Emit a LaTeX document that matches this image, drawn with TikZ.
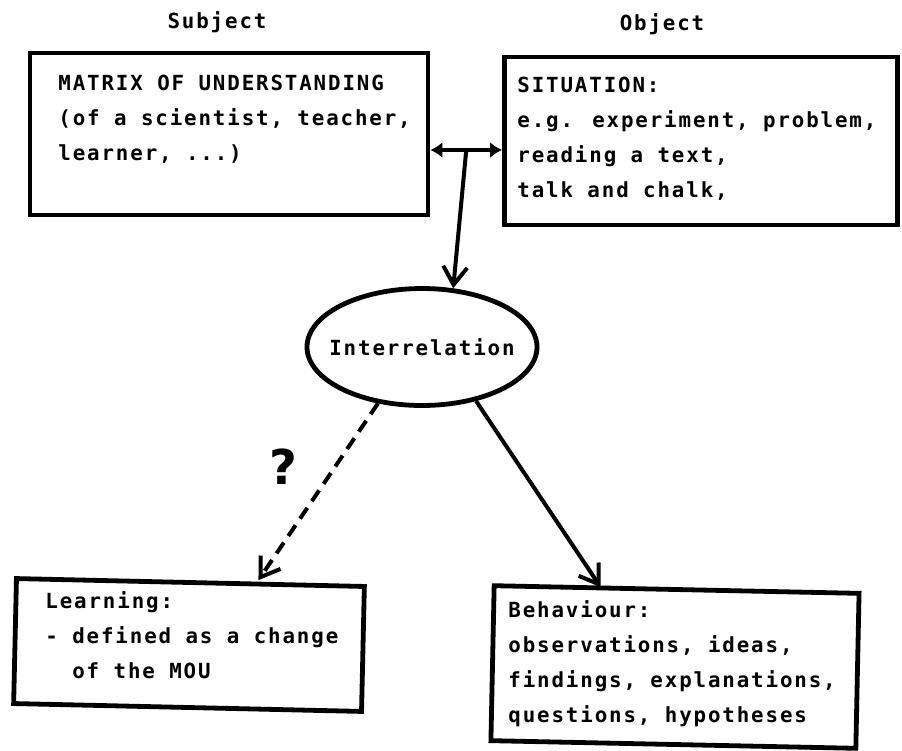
\documentclass[tikz,border=0pt]{standalone}
\usepackage{fontspec}
\usetikzlibrary{arrows.meta,shapes.geometric}
\newfontfamily\typew[LetterSpace=9]{DejaVu Sans Mono}
\newfontfamily\handq{DejaVu Sans}
\newcommand{\lines}[1]{\begin{tabular}[t]{@{}l@{}}#1\end{tabular}}
\begin{document}
\begin{tikzpicture}[x=0.5pt, y=-0.5pt,
    every node/.style={font=\typew\bfseries\fontsize{10.4}{17.5}\selectfont},
    box/.style={draw, line width=2.4pt, inner sep=0pt},
    txt/.style={anchor=base west, inner sep=0pt},
    arr/.style={line width=2pt, -{Straight Barb[length=9pt,width=12pt]}}]
    \useasboundingbox (0,0) rectangle (902,751);
    \node (subj) at (217,22) {Subject};
    \node (obj) at (662,24) {Object};
    \node[box, minimum width=199pt, minimum height=81pt] (mou) at (229,134) {};
    \node[box, minimum width=196.5pt, minimum height=84pt] (sit) at (701,141) {};
    \node[box, minimum width=174pt, minimum height=62.5pt, rotate=-1.3] (learn) at (189,645) {};
    \node[box, minimum width=182.5pt, minimum height=77.5pt, rotate=-1.2] (behav) at (675,667) {};
    \node[txt] (moutext) at (58,90) {\lines{MATRIX OF UNDERSTANDING\\(of a scientist, teacher,\\learner, ...)}};
    \node[txt] (sittext) at (517,92) {\lines{SITUATION:\\e.g. experiment, problem,\\reading a text,\\talk and chalk,}};
    \node[txt] (learntext) at (45,608) {\lines{Learning:\\- defined as a change\\\phantom{- }of the MOU}};
    \node[txt] (behavtext) at (508,617) {\lines{Behaviour:\\observations, ideas,\\findings, explanations,\\questions, hypotheses}};
    \node[draw, ellipse, line width=2.4pt, minimum width=115pt, minimum height=58.5pt, inner sep=0pt, inner xsep=-6pt] (inter) at (422,347) {Interrelation};
    \node[font=\handq\bfseries\fontsize{24}{24}\selectfont] (qmark) at (283,467) {?};
    \draw[line width=2pt, {Latex[length=6pt,width=8pt]}-{Latex[length=6pt,width=8pt]}]
        ([yshift=-8pt]mou.east) -- coordinate[pos=0.5] (mid) ([yshift=-8pt]mou.east -| sit.west);
    \draw[arr] (mid) -- (inter.62);
    \draw[arr, dash pattern=on 6.5pt off 4pt] (inter.232) -- ([xshift=34pt]learn.north);
    \draw[arr] (inter.315) -- ([xshift=-38pt]behav.north);
\end{tikzpicture}
\end{document}
